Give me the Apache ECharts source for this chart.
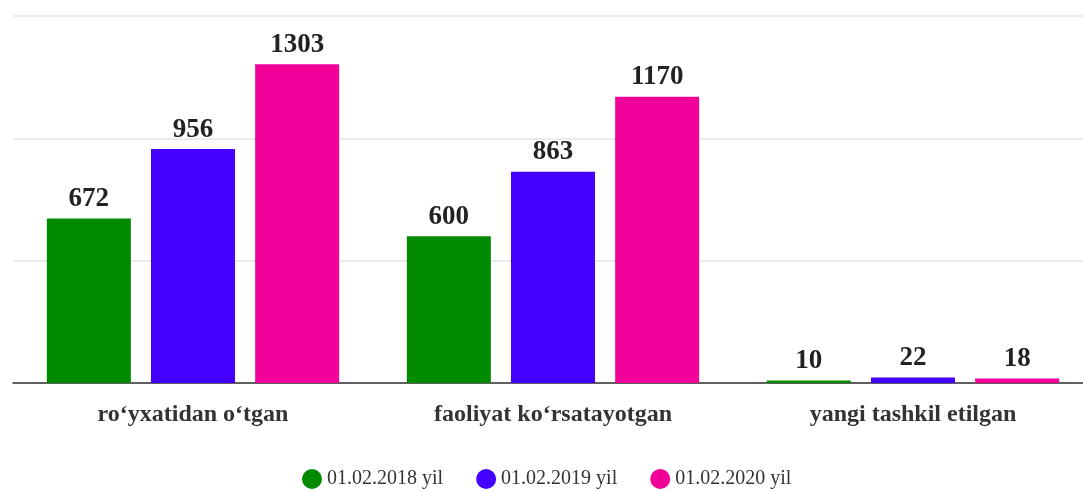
<!DOCTYPE html>
<html><head><meta charset="utf-8">
<script src="https://cdn.jsdelivr.net/npm/echarts@6/dist/echarts.min.js"></script>
<style>html,body{margin:0;padding:0;background:#fff;overflow:hidden;width:1083px;height:491px}#c{width:1093px;height:491px}</style>
</head><body><div id="c"></div>
<script>
const categories = ["ro‘yxatidan o‘tgan", "faoliyat ko‘rsatayotgan", "yangi tashkil etilgan"];
const seriesNames = ["01.02.2018 yil", "01.02.2019 yil", "01.02.2020 yil"];
const values2018 = [672, 600, 10];
const values2019 = [956, 863, 22];
const values2020 = [1303, 1170, 18];
const colors = ["#008a00", "#4400ff", "#f2009a"];

const font = "Liberation Serif";
const chart = echarts.init(document.getElementById('c'), null, {renderer: 'canvas'});
const dataSets = [values2018, values2019, values2020];
chart.setOption({
  animation: false,
  color: colors,
  grid: {left: 13, right: 0, top: 16, bottom: 108, containLabel: false},
  legend: {
    bottom: -3, left: 297, icon: 'circle', itemWidth: 20, itemHeight: 20, itemGap: 33,
    textStyle: {fontFamily: font, fontSize: 20, color: '#333'},
    data: seriesNames
  },
  xAxis: {
    type: 'category', data: categories,
    axisLine: {lineStyle: {color: '#333', width: 1.5}},
    axisTick: {alignWithLabel: true, length: 8, lineStyle: {color: '#333'}},
    axisLabel: {fontFamily: font, fontWeight: 'bold', fontSize: 24, color: '#333', margin: 20}
  },
  yAxis: {
    type: 'value', min: 0, max: 1500, interval: 500,
    axisLabel: {show: false}, axisLine: {show: false}, axisTick: {show: false},
    splitLine: {lineStyle: {color: '#ebebeb', width: 2}}
  },
  series: dataSets.map((d, i) => ({
    name: seriesNames[i], type: 'bar', data: d,
    barWidth: 84, barGap: '24%',
    label: {show: true, position: 'top', distance: 6, fontFamily: font, fontWeight: 'bold', fontSize: 27, color: '#222'}
  }))
});
</script></body></html>
